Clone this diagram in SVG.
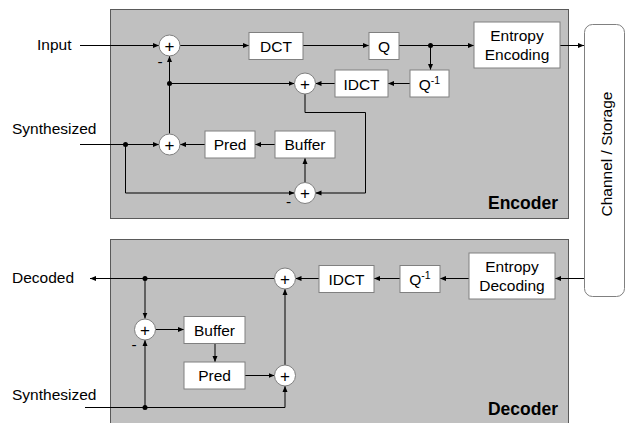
<svg xmlns="http://www.w3.org/2000/svg" width="631" height="423" viewBox="0 0 631 423">
<defs>
<marker id="ah" markerWidth="6" markerHeight="6" refX="6" refY="3" orient="auto" markerUnits="userSpaceOnUse">
<path d="M0,0.5 L6,3 L0,5.5 z" fill="#000"/>
</marker>
<style>
text{font-family:"Liberation Sans",Arial,sans-serif;fill:#000}
.lbl{font-size:15.5px}
.mid{text-anchor:middle}
.big{font-size:17.5px;font-weight:bold;text-anchor:end}
.panel{fill:#c0c0c0;stroke:#5a5a5a;stroke-width:1}
.box{fill:#fff;stroke:#808080;stroke-width:1}
.sum{fill:#fff;stroke:#808080;stroke-width:1}
.plus{font-size:17px;text-anchor:middle}
.conn path{fill:none;stroke:#000;stroke-width:1;marker-end:url(#ah)}
.dot{fill:#000}
</style>
</defs>

<g id="encoder-panel"><rect class="panel" x="110.5" y="9.5" width="458" height="209"/>
<text class="big" x="558" y="209">Encoder</text></g>
<g id="decoder-panel"><rect class="panel" x="110.5" y="239.5" width="458" height="200"/>
<text class="big" x="558" y="415">Decoder</text></g>

<g id="channel"><rect class="box" x="584.5" y="24.5" width="40" height="272" rx="8"/>
<text class="lbl mid" transform="translate(612,154) rotate(-90)">Channel / Storage</text></g>

<g id="input-label"><text class="lbl" x="37" y="49.5">Input</text></g>
<g id="synth-enc-label"><text class="lbl" x="12" y="134">Synthesized</text></g>
<g id="decoded-label"><text class="lbl" x="12" y="283">Decoded</text></g>
<g id="synth-dec-label"><text class="lbl" x="12" y="400">Synthesized</text></g>

<g class="conn" id="connectors">
<path d="M80,45.5 H159"/>
<path d="M180,45.5 H249"/>
<path d="M303,45.5 H369"/>
<path d="M399,45.5 H474"/>
<path d="M430.5,45.5 V70"/>
<path d="M560,45.5 H584"/>
<path d="M410,83.5 H388"/>
<path d="M335,83.5 H315.5"/>
<path d="M169.5,83.5 H294.5"/>
<path d="M305,94 V112.5 H365.5 V193 H315.5"/>
<path d="M305,182.5 V158"/>
<path d="M275,144.5 H255"/>
<path d="M205,144.5 H180"/>
<path d="M80,144.5 H159"/>
<path d="M125.5,144.5 V193 H294.5"/>
<path d="M169.5,133.5 V56"/>
<path d="M584,278.5 H555"/>
<path d="M469,278.5 H440"/>
<path d="M400,278.5 H374"/>
<path d="M319,278.5 H295.5"/>
<path d="M274.5,278.5 H90"/>
<path d="M145,278.5 V318.5"/>
<path d="M155.5,329.5 H184"/>
<path d="M215,343 V362"/>
<path d="M245,375.5 H274.5"/>
<path d="M285,365 V289"/>
<path d="M85,407.5 H285 V386"/>
<path d="M145,407.5 V340"/>
<circle class="dot" cx="430.5" cy="45.5" r="2.5"/>
<circle class="dot" cx="169.5" cy="83.5" r="2.5"/>
<circle class="dot" cx="125.5" cy="144.5" r="2.5"/>
<circle class="dot" cx="145" cy="278.5" r="2.5"/>
<circle class="dot" cx="145" cy="407.5" r="2.5"/>
</g>

<g id="sum-e1"><circle class="sum" cx="169.5" cy="45.5" r="10.5"/><text class="plus" x="169.5" y="51.5">+</text><text class="lbl mid" x="160" y="67">-</text></g>
<g id="sum-e2"><circle class="sum" cx="305" cy="83.5" r="10.5"/><text class="plus" x="305" y="89.5">+</text></g>
<g id="sum-e3"><circle class="sum" cx="305" cy="193" r="10.5"/><text class="plus" x="305" y="199">+</text><text class="lbl mid" x="288.5" y="206.5">-</text></g>
<g id="sum-e4"><circle class="sum" cx="169.5" cy="144.5" r="10.5"/><text class="plus" x="169.5" y="150.5">+</text></g>

<g id="dct"><rect class="box" x="249" y="32.5" width="54" height="27"/><text class="lbl mid" x="276" y="51.5">DCT</text></g>
<g id="q"><rect class="box" x="369" y="32.5" width="30" height="27"/><text class="lbl mid" x="384" y="51.5">Q</text></g>
<g id="entropy-enc"><rect class="box" x="474" y="22" width="86" height="46"/><text class="lbl mid" x="517" y="41">Entropy</text><text class="lbl mid" x="517" y="60">Encoding</text></g>
<g id="iq-enc"><rect class="box" x="410" y="70" width="39" height="27"/><text class="lbl mid" x="429.5" y="89.5">Q<tspan font-size="10.5" dy="-6">-1</tspan></text></g>
<g id="idct-enc"><rect class="box" x="335" y="70" width="53" height="27"/><text class="lbl mid" x="361.5" y="89.5">IDCT</text></g>
<g id="buffer-enc"><rect class="box" x="275" y="131" width="60" height="27"/><text class="lbl mid" x="305" y="150">Buffer</text></g>
<g id="pred-enc"><rect class="box" x="205" y="131" width="50" height="27"/><text class="lbl mid" x="230" y="150">Pred</text></g>

<g id="entropy-dec"><rect class="box" x="469" y="253" width="86" height="46"/><text class="lbl mid" x="512" y="272">Entropy</text><text class="lbl mid" x="512" y="291">Decoding</text></g>
<g id="iq-dec"><rect class="box" x="400" y="265.5" width="40" height="27"/><text class="lbl mid" x="420" y="284.5">Q<tspan font-size="10.5" dy="-6">-1</tspan></text></g>
<g id="idct-dec"><rect class="box" x="319" y="265.5" width="55" height="27"/><text class="lbl mid" x="346.5" y="284.5">IDCT</text></g>
<g id="sum-d1"><circle class="sum" cx="285" cy="278.5" r="10.5"/><text class="plus" x="285" y="284.5">+</text></g>
<g id="sum-d2"><circle class="sum" cx="145" cy="329.5" r="10.5"/><text class="plus" x="145" y="335.5">+</text><text class="lbl mid" x="134" y="349.5">-</text></g>
<g id="sum-d3"><circle class="sum" cx="285" cy="375.5" r="10.5"/><text class="plus" x="285" y="381.5">+</text></g>
<g id="buffer-dec"><rect class="box" x="184" y="316.5" width="61" height="27"/><text class="lbl mid" x="214.5" y="335.5">Buffer</text></g>
<g id="pred-dec"><rect class="box" x="184" y="362" width="61" height="27"/><text class="lbl mid" x="214.5" y="381">Pred</text></g>
</svg>
